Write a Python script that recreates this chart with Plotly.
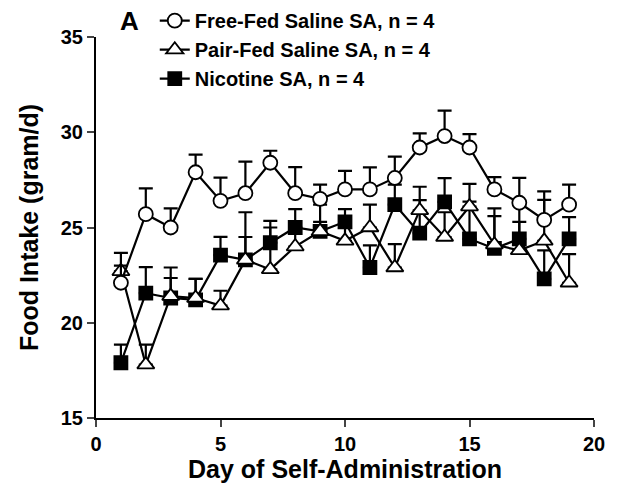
import plotly.graph_objects as go

days = list(range(1, 20))

free_fed = [22.1, 25.7, 25.0, 27.9, 26.4, 26.8, 28.4, 26.8, 26.5, 27.0, 27.0, 27.6, 29.2, 29.8, 29.2, 27.0, 26.3, 25.4, 26.2]
free_fed_se = [0.9, 1.35, 1.0, 0.93, 1.22, 1.66, 0.63, 1.37, 0.75, 0.97, 1.16, 1.12, 0.74, 1.34, 0.7, 0.64, 1.3, 1.5, 1.05]

pair_fed = [22.7, 17.8, 21.4, 21.3, 20.9, 23.3, 22.8, 24.0, 24.8, 24.3, 25.0, 22.9, 25.9, 24.5, 26.1, 24.1, 23.8, 24.3, 22.1]
pair_fed_se = [0.97, 1.05, 1.5, 1.0, 0.78, 1.2, 2.2, 1.0, 0.5, 1.0, 1.2, 1.23, 1.24, 1.3, 1.19, 1.5, 1.5, 2.15, 1.5]

nicotine = [17.9, 21.55, 21.3, 21.2, 23.55, 23.3, 24.2, 25.0, 24.8, 25.3, 22.9, 26.2, 24.7, 26.35, 24.4, 23.9, 24.4, 22.3, 24.4]
nicotine_se = [0.95, 1.37, 1.05, 1.1, 0.96, 2.5, 1.15, 0.96, 1.4, 0.66, 1.16, 1.05, 1.74, 1.24, 1.96, 2.1, 1.9, 1.5, 1.14]

names = ["Free-Fed Saline SA, n = 4", "Pair-Fed Saline SA, n = 4", "Nicotine SA, n = 4"]
x_ticks = [0, 5, 10, 15, 20]
y_ticks = [15, 20, 25, 30, 35]

FONT = "Liberation Sans, Arial, sans-serif"

fig = go.Figure()

def add(y, se, name, symbol, fill, size):
    fig.add_trace(go.Scatter(
        x=days, y=y, name=name, mode="lines+markers",
        line=dict(color="black", width=2.2),
        marker=dict(symbol=symbol, size=size, color=fill, line=dict(color="black", width=1.8)),
        error_y=dict(type="data", symmetric=False, array=se, arrayminus=[0] * len(se),
                     color="black", thickness=2.2, width=7),
    ))

add(nicotine, nicotine_se, names[2], "square", "black", 13)
add(pair_fed, pair_fed_se, names[1], "triangle-up", "white", 15)
add(free_fed, free_fed_se, names[0], "circle", "white", 14)

fig.update_layout(
    width=624, height=497,
    margin=dict(l=96, r=30, t=37, b=79, autoexpand=False),
    paper_bgcolor="white", plot_bgcolor="white",
    font=dict(family=FONT, color="black", size=18),
    showlegend=True,
    legend=dict(x=0.118, y=1.094, xanchor="left", yanchor="top", traceorder="reversed",
                bgcolor="rgba(0,0,0,0)", font=dict(size=20, family=FONT, weight="bold"),
                itemwidth=30, tracegroupgap=0),
    xaxis=dict(range=[0, 20], tickvals=x_ticks, ticks="outside", ticklen=7, tickwidth=2,
               showline=True, linecolor="black", linewidth=2, showgrid=False, zeroline=False,
               tickfont=dict(size=20, family=FONT, weight="bold"),
               title=dict(text="Day of Self-Administration", font=dict(size=25, family=FONT, weight="bold"), standoff=6)),
    yaxis=dict(range=[15, 35], tickvals=y_ticks, ticks="outside", ticklen=7, tickwidth=2,
               showline=True, linecolor="black", linewidth=2, showgrid=False, zeroline=False,
               tickfont=dict(size=20, family=FONT, weight="bold"),
               title=dict(text="Food Intake (gram/d)", font=dict(size=25, family=FONT, weight="bold"), standoff=15)),
    annotations=[dict(text="A", x=0.068, y=1.042, xref="paper", yref="paper", xanchor="center", yanchor="middle",
                      showarrow=False, font=dict(size=26, family=FONT, weight="bold"))],
)

fig.write_html("out.html")
